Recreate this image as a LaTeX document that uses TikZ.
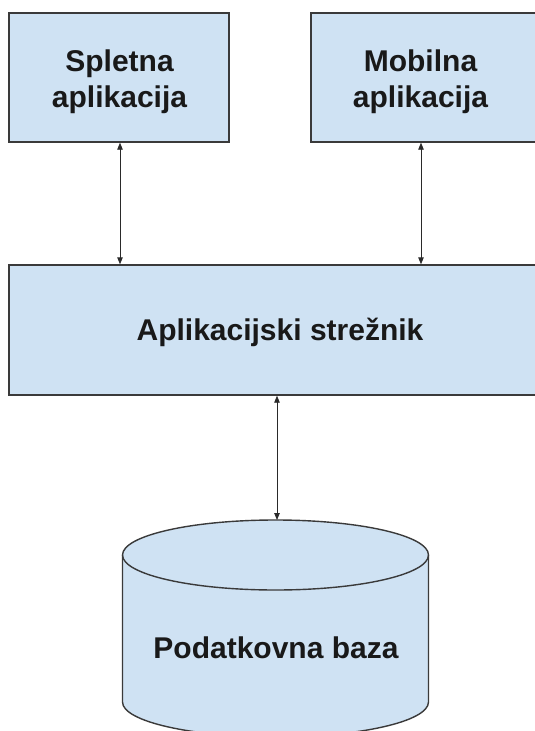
\documentclass[tikz,border=0pt]{standalone}
\usepackage{fontspec}
\setmainfont{Liberation Sans}
\usetikzlibrary{arrows.meta}
\definecolor{boxfill}{HTML}{CFE2F3}
\definecolor{boxline}{HTML}{3A3A3A}
\definecolor{arrline}{HTML}{2A2A2A}
\begin{document}
\begin{tikzpicture}[x=1pt,y=-1pt,
  box/.style={draw=boxline,fill=boxfill,line width=1.4pt,inner sep=0pt},
  lbl/.style={font=\bfseries\fontsize{30}{36}\selectfont,align=center,inner sep=0pt,text=black!90},
  conn/.style={draw=arrline,line width=0.9pt,
    {Triangle[length=7pt,width=5.5pt]}-{Triangle[length=7pt,width=5.5pt]}}]
\clip (0,0) rectangle (535,731);
\fill[white] (0,0) rectangle (535,731);
% top boxes
\node[box,minimum width=220pt,minimum height=129pt] (web) at (119,77.5) {};
\node[box,minimum width=229pt,minimum height=129pt] (mob) at (425.5,77.5) {};
\node[lbl] (webt) at (119.5,82) {Spletna\\aplikacija};
\node[lbl] (mobt) at (420.5,82) {Mobilna\\aplikacija};
% server
\node[box,minimum width=542pt,minimum height=130pt] (srv) at (280,330) {};
\node[lbl,anchor=base] (srvt) at (280,340) {Aplikacijski strežnik};
% database cylinder
\fill[boxfill] (122.5,555) -- (122.5,702) arc[start angle=180,end angle=0,x radius=153,y radius=35]
  -- (428.5,555) arc[start angle=0,end angle=-180,x radius=153,y radius=35] -- cycle;
\draw[boxline,line width=1.4pt] (122.5,555) -- (122.5,702) arc[start angle=180,end angle=0,x radius=153,y radius=35]
  -- (428.5,555);
\draw[boxline,line width=1.4pt] (275.5,555) ellipse[x radius=153,y radius=35];
\coordinate (dbtop) at (277,520);
\node[lbl,anchor=base] (dbt) at (276,658) {Podatkovna baza};
% connectors
\draw[conn] (web.south -| 120,0) -- (srv.north -| 120,0);
\draw[conn] (mob.south -| 421,0) -- (srv.north -| 421,0);
\draw[conn] (srv.south -| dbtop) -- (dbtop);
\end{tikzpicture}
\end{document}
